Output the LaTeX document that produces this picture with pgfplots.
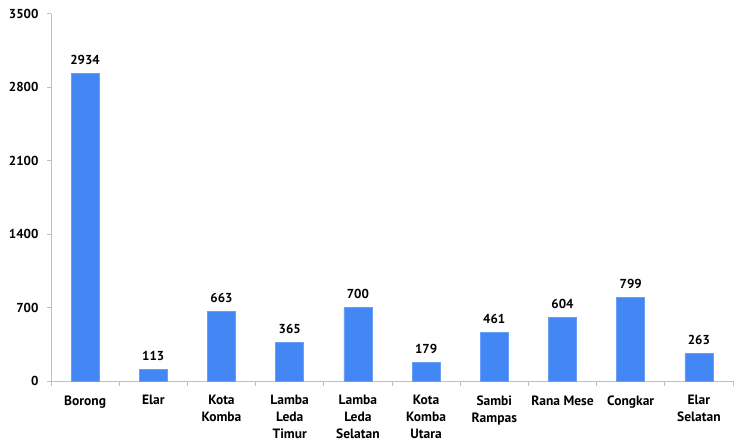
\documentclass[border=0pt]{standalone}
\usepackage{fontspec}
\setmainfont{PT Sans}
\usepackage{pgfplots}
\pgfplotsset{compat=1.18}
\definecolor{barblue}{HTML}{4387F5}
\definecolor{axgray}{HTML}{BFBFBF}
\begin{document}
\begin{tikzpicture}
\path[use as bounding box] (0,0) rectangle (735pt,442pt);
\begin{axis}[
  at={(51pt,61pt)}, anchor=south west,
  scale only axis, width=682pt, height=367pt,
  xmin=-0.5, xmax=9.5, ymin=0, ymax=3500,
  ytick={0,700,...,3500},
  xtick={0,...,9},
  xticklabels={Borong,Elar,Kota\\Komba,Lamba\\Leda\\Timur,Lamba\\Leda\\Selatan,Kota\\Komba\\Utara,Sambi\\Rampas,Rana Mese,Congkar,Elar\\Selatan},
  minor xtick={-0.5,0.5,...,9.5},
  axis x line*=bottom, axis y line*=left,
  axis line style={axgray, line width=1pt, -},
  major x tick style={draw=none},
  minor x tick style={axgray, line width=1pt},
  y tick style={axgray, line width=1pt},
  tick align=outside,
  major tick length=4pt, minor tick length=5pt,
  x tick label style={font=\fontsize{13.5pt}{17pt}\selectfont\bfseries, align=center, yshift=-7pt},
  y tick label style={font=\fontsize{13pt}{14pt}\selectfont\bfseries, xshift=-5pt},
  /pgf/number format/assume math mode=true,
  /pgf/number format/1000 sep={},
  ybar, bar width=28pt,
  nodes near coords,
  every node near coord/.append style={font=\fontsize{13pt}{14pt}\selectfont\bfseries, yshift=5pt, /pgf/number format/1000 sep={}},
  clip=false,
]
\addplot[fill=barblue, draw=barblue!80!white, line width=0.6pt] coordinates {
(0,2934) (1,113) (2,663) (3,365) (4,700) (5,179) (6,461) (7,604) (8,799) (9,263)};
\end{axis}
\end{tikzpicture}
\end{document}
